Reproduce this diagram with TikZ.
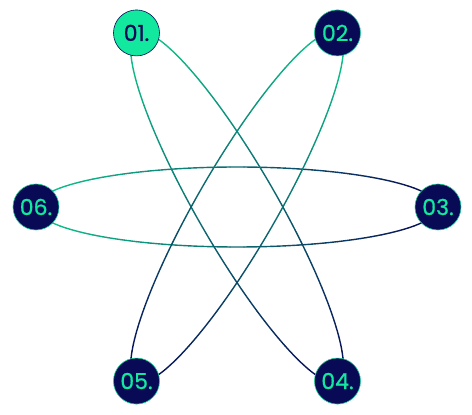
\documentclass[tikz,border=0pt]{standalone}
\usepackage{fontspec}
\setmainfont{Poppins}[FakeBold=0.8]
\usepackage{tikz}
\usetikzlibrary{positioning, calc, backgrounds}
\definecolor{mynavy}{RGB}{8,10,86}
\definecolor{mygreen}{RGB}{16,200,140}
\definecolor{mybright}{RGB}{18,232,158}
\definecolor{myedge}{RGB}{24,205,150}
\tikzset{
  stepnode/.style={circle, draw=myedge, fill=mynavy, text=mybright,
    minimum size=46pt, inner sep=0pt, line width=0.6pt,
    font=\fontsize{22}{22}\selectfont},
  firstnode/.style={stepnode, draw=mynavy, fill=mybright, text=mynavy},
  orbit/.style={line width=1.4pt, line cap=round}
}

\begin{document}
\begin{tikzpicture}[x=1pt, y=1pt]
  \useasboundingbox (0,0) rectangle (472,415);
  \coordinate (c) at (237,208);

  % Nodes on the hexagon
  \node[firstnode] (n1) at ($(c)+(120:201)$) {01.};
  \node[stepnode]  (n2) at ($(c)+(60:201)$)  {02.};
  \node[stepnode]  (n3) at ($(c)+(0:201)$)   {03.};
  \node[stepnode]  (n4) at ($(c)+(300:201)$) {04.};
  \node[stepnode]  (n5) at ($(c)+(240:201)$) {05.};
  \node[stepnode]  (n6) at ($(c)+(180:201)$) {06.};

  % Three ellipses, green at one end and navy at the other
  \begin{scope}[on background layer]
    \foreach \rot in {0,-60,-120} {
      \begin{scope}[shift={(c)}, rotate=\rot]
        \foreach \t in {0,4,...,356} {
          \pgfmathsetmacro{\p}{50*(1+cos(\t+2))}
          \draw[orbit, color=mynavy!\p!mygreen]
            (\t:201 and 40) arc[start angle=\t, end angle=\t+4,
              x radius=201, y radius=40];
        }
      \end{scope}
    }
  \end{scope}
\end{tikzpicture}
\end{document}
